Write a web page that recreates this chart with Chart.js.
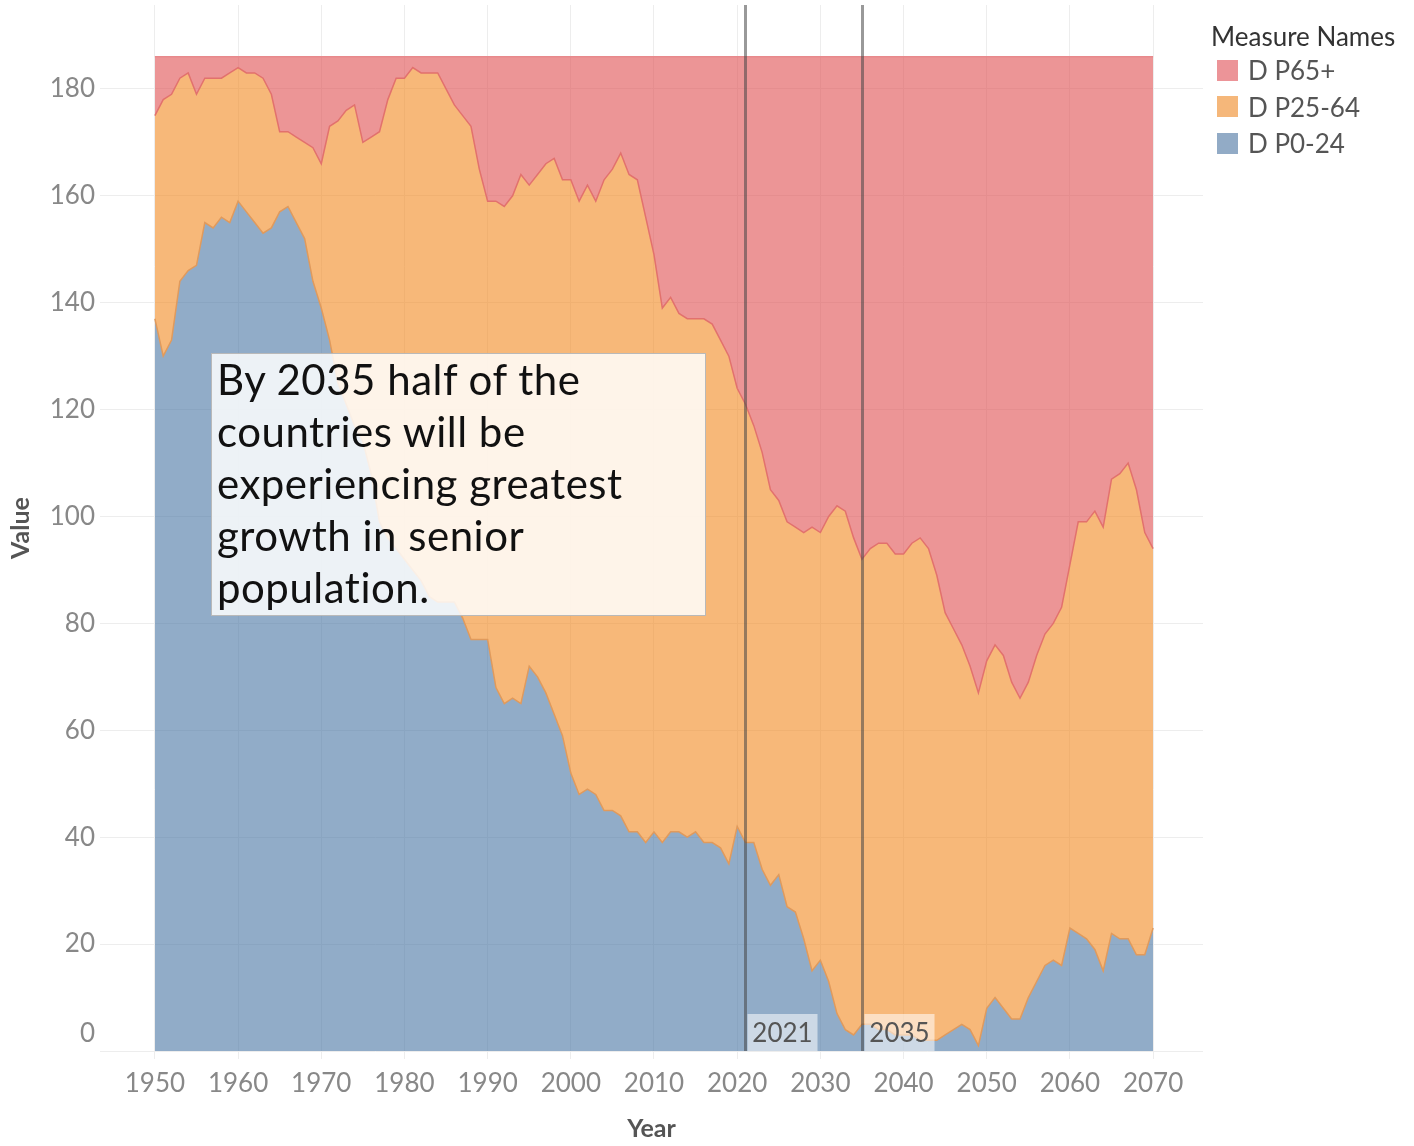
<!DOCTYPE html>
<html>
<head>
<meta charset="utf-8">
<script src="https://cdn.jsdelivr.net/npm/chart.js@4.4.1/dist/chart.umd.min.js"></script>
<style>
  body { margin: 0; background: #fff; font-family: Lato, "Open Sans", sans-serif; }
  #wrap { position: relative; width: 1414px; height: 1146px; }
  #note {
    position: absolute; left: 211px; top: 353px; width: 483px; height: 261px;
    background: rgba(255, 255, 255, 0.84); border: 1px solid #b9b9b9;
    font-size: 42px; line-height: 52px; letter-spacing: 0.5px; color: #111; padding: 0 5px; box-sizing: content-box;
  }
  #note span { display: block; margin-top: -1px; }
  #legend { position: absolute; left: 1211px; top: 20px; color: #555; }
  #legend .title { font-size: 26px; color: #333; line-height: 32px; }
  #legend .item { height: 36.5px; display: flex; align-items: center; font-size: 26px; }
  #legend .sw { width: 21px; height: 21px; margin: 0 10px 0 6px; }
</style>
</head>
<body>
<div id="wrap">
  <canvas id="chart" width="1414" height="1146"></canvas>
  <div id="note"><span>By 2035 half of the<br>countries will be<br>experiencing greatest<br>growth in senior<br>population.</span></div>
  <div id="legend"></div>
</div>
<script>
// one value per year, 1950 to 2070
const years = Array.from({ length: 121 }, (_, i) => 1950 + i);

const p0to24 = [
  137, 130, 133, 144, 146, 147, 155, 154, 156, 155,
  159, 157, 155, 153, 154, 157, 158, 155, 152, 144,
  139, 133, 125, 121, 117, 114, 108, 99, 96, 94,
  92, 90, 88, 85, 84, 84, 84, 81, 77, 77,
  77, 68, 65, 66, 65, 72, 70, 67, 63, 59,
  52, 48, 49, 48, 45, 45, 44, 41, 41, 39,
  41, 39, 41, 41, 40, 41, 39, 39, 38, 35,
  42, 39, 39, 34, 31, 33, 27, 26, 21, 15,
  17, 13, 7, 4, 3, 5, 5, 4, 4, 3,
  3, 3, 2, 2, 2, 3, 4, 5, 4, 1,
  8, 10, 8, 6, 6, 10, 13, 16, 17, 16,
  23, 22, 21, 19, 15, 22, 21, 21, 18, 18,
  23
];

const p25to64 = [
  38, 48, 46, 38, 37, 32, 27, 28, 26, 28,
  25, 26, 28, 29, 25, 15, 14, 16, 18, 25,
  27, 40, 49, 55, 60, 56, 63, 73, 82, 88,
  90, 94, 95, 98, 99, 96, 93, 94, 96, 88,
  82, 91, 93, 94, 99, 90, 94, 99, 104, 104,
  111, 111, 113, 111, 118, 120, 124, 123, 122, 117,
  108, 100, 100, 97, 97, 96, 98, 97, 95, 95,
  82, 82, 78, 78, 74, 70, 72, 72, 76, 83,
  80, 87, 95, 97, 93, 87, 89, 91, 91, 90,
  90, 92, 94, 92, 87, 79, 75, 71, 68, 66,
  65, 66, 66, 63, 60, 59, 61, 62, 63, 67,
  68, 77, 78, 82, 83, 85, 87, 89, 87, 79,
  71
];

const p65plus = [
  11, 8, 7, 4, 3, 7, 4, 4, 4, 3,
  2, 3, 3, 4, 7, 14, 14, 15, 16, 17,
  20, 13, 12, 10, 9, 16, 15, 14, 8, 4,
  4, 2, 3, 3, 3, 6, 9, 11, 13, 21,
  27, 27, 28, 26, 22, 24, 22, 20, 19, 23,
  23, 27, 24, 27, 23, 21, 18, 22, 23, 30,
  37, 47, 45, 48, 49, 49, 49, 50, 53, 56,
  62, 65, 69, 74, 81, 83, 87, 88, 89, 88,
  89, 86, 84, 85, 90, 94, 92, 91, 91, 93,
  93, 91, 90, 92, 97, 104, 107, 110, 114, 119,
  113, 110, 112, 117, 120, 117, 112, 108, 106, 103,
  95, 87, 87, 85, 88, 79, 78, 76, 81, 89,
  92
];

const seriesNames = ['D P0-24', 'D P25-64', 'D P65+'];
const fillColors = ['rgba(78, 121, 167, 0.62)', 'rgba(242, 142, 43, 0.63)', 'rgba(225, 87, 89, 0.63)'];
const lineColors = ['#e09a5c', '#e2716d', '#e8898c'];
const swatchColors = ['#92abc6', '#f5b77a', '#ec9498'];

const markerYears = [2021, 2035];
const xTicks = [1950, 1960, 1970, 1980, 1990, 2000, 2010, 2020, 2030, 2040, 2050, 2060, 2070];
const yTicks = [0, 20, 40, 60, 80, 100, 120, 140, 160, 180];

const tickFont = { family: 'Lato', size: 26 };

// vertical reference lines with year tags at the bottom
const markerPlugin = {
  id: 'markers',
  afterDatasetsDraw(chart) {
    const { ctx, chartArea, scales } = chart;
    ctx.save();
    markerYears.forEach(yr => {
      const x = Math.round(scales.x.getPixelForValue(yr)) + 0.5;
      ctx.strokeStyle = 'rgba(70, 70, 70, 0.55)';
      ctx.lineWidth = 3;
      ctx.beginPath();
      ctx.moveTo(x, chartArea.top);
      ctx.lineTo(x, chartArea.bottom);
      ctx.stroke();

      const boxW = 70, boxH = 37;
      ctx.fillStyle = 'rgba(255, 255, 255, 0.55)';
      ctx.fillRect(x + 2, chartArea.bottom - boxH, boxW, boxH);
      ctx.fillStyle = '#555';
      ctx.font = '26px Lato';
      ctx.textAlign = 'center';
      ctx.textBaseline = 'middle';
      ctx.fillText(String(yr), x + 2 + boxW / 2, chartArea.bottom - boxH / 2 + 1);
    });
    ctx.restore();
  },
  // the zero label sits a little above its gridline, as in the original
  afterDraw(chart) {
    const { ctx, scales } = chart;
    const y = scales.y;
    ctx.save();
    ctx.fillStyle = '#888';
    ctx.font = '26px Lato';
    ctx.textAlign = 'right';
    ctx.textBaseline = 'middle';
    ctx.fillText('0', y.right - 5, y.getPixelForValue(0) - 17);
    ctx.restore();
  }
};

const datasets = [p0to24, p25to64, p65plus].map((vals, i) => ({
  label: seriesNames[i],
  data: vals,
  backgroundColor: fillColors[i],
  borderColor: lineColors[i],
  borderWidth: 1.5,
  pointRadius: 0,
  tension: 0,
  fill: i === 0 ? 'origin' : '-1'
}));

new Chart(document.getElementById('chart'), {
  type: 'line',
  data: { labels: years, datasets },
  options: {
    responsive: false,
    animation: false,
    layout: { padding: { top: 5, right: 211, left: 0, bottom: 0 } },
    plugins: { legend: { display: false }, tooltip: { enabled: false } },
    scales: {
      x: {
        type: 'linear',
        min: 1943.4,
        max: 2076,
        afterBuildTicks: axis => { axis.ticks = xTicks.map(v => ({ value: v })); },
        afterFit: axis => { axis.height = 95; axis.paddingLeft = 0; axis.paddingRight = 0; },
        border: { display: false },
        grid: { color: '#ededed', tickLength: 8 },
        ticks: { color: '#888', font: tickFont, padding: 9, maxRotation: 0, callback: v => String(v) },
        title: { display: true, text: 'Year', color: '#555', font: { family: 'Lato', size: 25, weight: 'bold' }, padding: { top: 0, bottom: 2 } }
      },
      y: {
        stacked: true,
        min: 0,
        max: 195.7,
        afterBuildTicks: axis => { axis.ticks = yTicks.map(v => ({ value: v })); },
        afterFit: axis => { axis.width = 100; axis.paddingTop = 0; axis.paddingBottom = 0; },
        border: { display: false },
        grid: { color: '#ededed', drawTicks: false },
        ticks: { color: '#888', font: tickFont, padding: 5, callback: v => (v === 0 ? '' : String(v)) },
        title: { display: true, text: 'Value', color: '#555', font: { family: 'Lato', size: 25, weight: 'bold' }, padding: { top: 6, bottom: 0 } }
      }
    }
  },
  plugins: [markerPlugin]
});

// legend, top series first
const legend = document.getElementById('legend');
legend.innerHTML = '<div class="title">Measure Names</div>' +
  [2, 1, 0].map(i => `<div class="item"><div class="sw" style="background:${swatchColors[i]}"></div>${seriesNames[i]}</div>`).join('');
</script>
</body>
</html>
